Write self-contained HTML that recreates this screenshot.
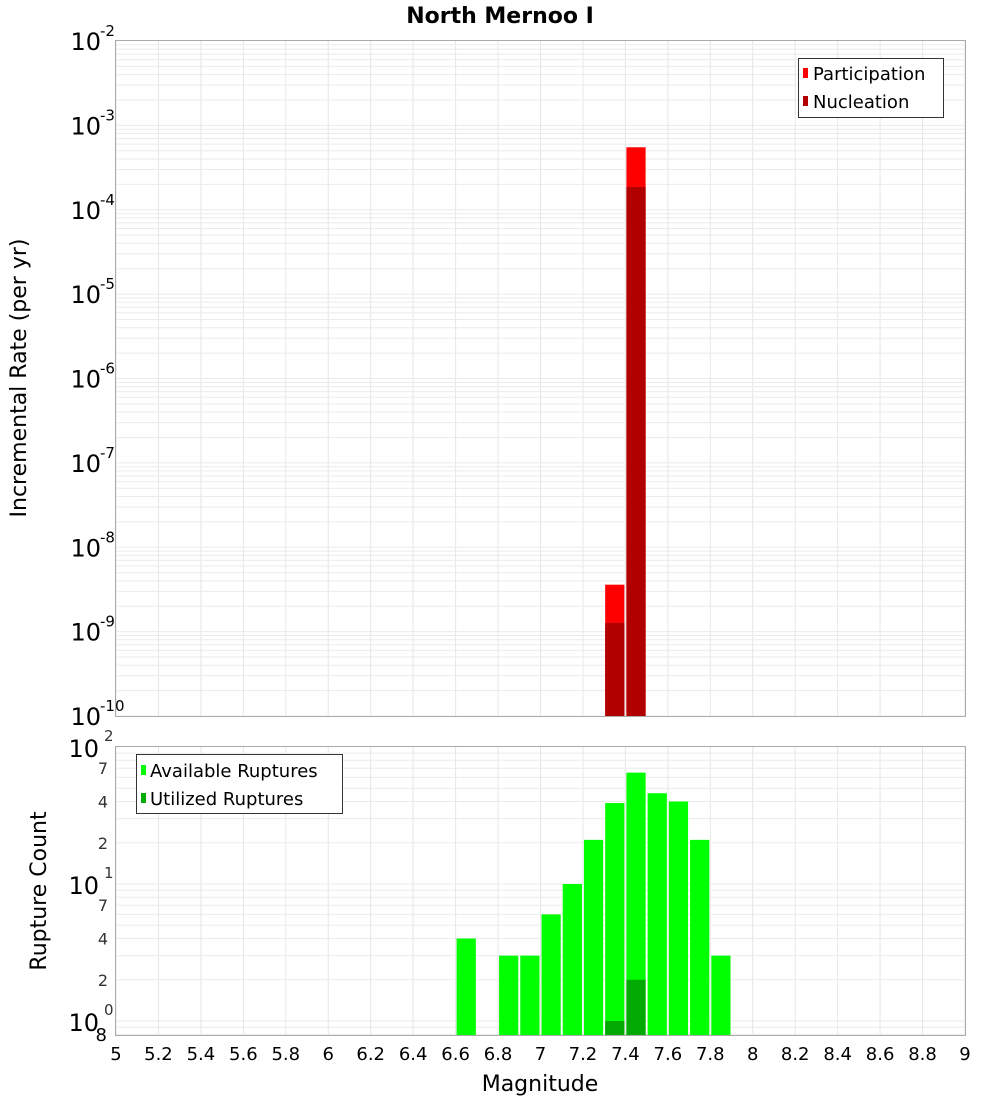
<!DOCTYPE html>
<html><head><meta charset="utf-8"><style>
body{margin:0;background:#fff}
svg text{font-family:"DejaVu Sans","Liberation Sans",sans-serif}
</style></head><body>
<svg id="c" width="1000" height="1100" xmlns="http://www.w3.org/2000/svg"></svg>
<script>
const binCenters=[7.35,7.45];
const participation=[3.6e-9,5.5e-4];
const nucleation=[1.27e-9,1.86e-4];
const countBins=[6.65,6.85,6.95,7.05,7.15,7.25,7.35,7.45,7.55,7.65,7.75,7.85];
const available=[4,3,3,6,10,21,39,65,46,40,21,3];
const utilBins=[7.35,7.45];
const utilized=[1,2];
const xTicks=[5,5.2,5.4,5.6,5.8,6,6.2,6.4,6.6,6.8,7,7.2,7.4,7.6,7.8,8,8.2,8.4,8.6,8.8,9];
const topExps=[-2,-3,-4,-5,-6,-7,-8,-9,-10];
const botMinorLabels=[2,4,7];

const svg=document.getElementById('c');
const NS='http://www.w3.org/2000/svg';
function mk(tag,attrs,parent,text){const e=document.createElementNS(NS,tag);for(const k in attrs)e.setAttribute(k,attrs[k]);if(text!==undefined)e.textContent=text;(parent||svg).appendChild(e);return e;}
const L=116,R=965;
const x=m=>L+(m-5)/(9-5)*(R-L);
const T1=41,B1=716;
const yTop=v=>T1+(-2-Math.log10(v))*(B1-T1)/8;
const T2=747,DEC2=137;
const yBot=v=>T2+(2-Math.log10(v))*DEC2;
const B2=1035;

// top grid
let g=mk('g',{});

xTicks.forEach(t=>{mk('line',{x1:x(t),x2:x(t),y1:T1,y2:B1,stroke:'#e6e6e6'},g);mk('line',{x1:x(t),x2:x(t),y1:T2,y2:B2,stroke:'#e6e6e6'},g);});
for(let e=-10;e<-2;e++)for(let k=1;k<10;k++){const yy=yTop(k*Math.pow(10,e));mk('line',{x1:L,x2:R,y1:yy,y2:yy,stroke:'#ebebeb'},g);}
for(let e=-1;e<2;e++)for(let k=1;k<10;k++){const v=k*Math.pow(10,e);const yy=yBot(v);if(yy>B2||yy<T2)continue;mk('line',{x1:L,x2:R,y1:yy,y2:yy,stroke:'#ebebeb'},g);}

// top bars
const bw=x(5.1)-x(5)-2;
binCenters.forEach((m,i)=>{
 let r=mk('rect',{x:x(m)-bw/2,y:yTop(participation[i]),width:bw,height:B1-yTop(participation[i]),fill:'#ff0000'});
 
 r=mk('rect',{x:x(m)-bw/2,y:yTop(nucleation[i]),width:bw,height:B1-yTop(nucleation[i]),fill:'#b00000'});
 
});
// bottom bars
countBins.forEach((m,i)=>{
 const r=mk('rect',{x:x(m)-bw/2,y:yBot(available[i]),width:bw,height:B2-yBot(available[i]),fill:'#00ff00'});
 
});
utilBins.forEach((m,i)=>{
 const r=mk('rect',{x:x(m)-bw/2,y:yBot(utilized[i]),width:bw,height:B2-yBot(utilized[i]),fill:'#00aa00'});
 
});
// frames
let f=mk('rect',{x:L-0.5,y:T1-0.5,width:R-L+1,height:B1-T1+1,fill:'none',stroke:'#aaa'});

f=mk('rect',{x:L-0.5,y:T2-0.5,width:R-L+1,height:B2-T2+1,fill:'none',stroke:'#aaa'});


// top y labels
topExps.forEach(e=>{const yy=yTop(Math.pow(10,e));
 const t=mk('text',{x:101,y:yy+9,'font-size':24,'text-anchor':'end'},svg,'10');
 
 mk('text',{x:100,y:yy-5,'font-size':15},svg,String(e));
});
// bottom y labels
[2,1,0].forEach(e=>{const yy=yBot(Math.pow(10,e));
 const t=mk('text',{x:99,y:yy+10,'font-size':24,'text-anchor':'end'},svg,'10');
 
 mk('text',{x:104,y:yy-6,'font-size':15,fill:'#333'},svg,String(e));
});
[1,0].forEach(e=>botMinorLabels.forEach(k=>{const yy=yBot(k*Math.pow(10,e));
 const t=mk('text',{x:108,y:yy+6,'font-size':16,'text-anchor':'end',fill:'#333'},svg,String(k));
 
}));
mk('text',{x:107,y:1041,'font-size':18,'text-anchor':'end'},svg,'8');
// x labels
xTicks.forEach(t=>{const e=mk('text',{x:x(t),y:1060,'font-size':18,'text-anchor':'middle'},svg,String(t));
 });
</script>
<svg style="position:absolute;left:0;top:0" width="1000" height="1100" xmlns="http://www.w3.org/2000/svg">
<text x="500" y="23" font-size="22" font-weight="bold" text-anchor="middle" font-family="DejaVu Sans, sans-serif">North Mernoo I</text>
<text x="540" y="1091" font-size="22" text-anchor="middle" font-family="DejaVu Sans, sans-serif">Magnitude</text>
<text transform="translate(26,378) rotate(-90)" font-size="22" text-anchor="middle" font-family="DejaVu Sans, sans-serif">Incremental Rate (per yr)</text>
<text transform="translate(46,891) rotate(-90)" font-size="22" text-anchor="middle" font-family="DejaVu Sans, sans-serif">Rupture Count</text>
<g font-family="DejaVu Sans, sans-serif" font-size="18">
<rect x="798.5" y="58.5" width="145" height="59" fill="#fff" stroke="#333"/>
<rect x="803" y="68" width="5" height="10" fill="#ff0000"/>
<text x="813" y="80">Participation</text>
<rect x="803" y="96" width="5" height="10" fill="#b00000"/>
<text x="813" y="108">Nucleation</text>
</g>
<g font-family="DejaVu Sans, sans-serif" font-size="18">
<rect x="136.5" y="754.5" width="206" height="59" fill="#fff" stroke="#333"/>
<rect x="141" y="765" width="5" height="10" fill="#00ff00"/>
<text x="150" y="777">Available Ruptures</text>
<rect x="141" y="793" width="5" height="10" fill="#00aa00"/>
<text x="150" y="805">Utilized Ruptures</text>
</g>
</svg>
</body></html>
